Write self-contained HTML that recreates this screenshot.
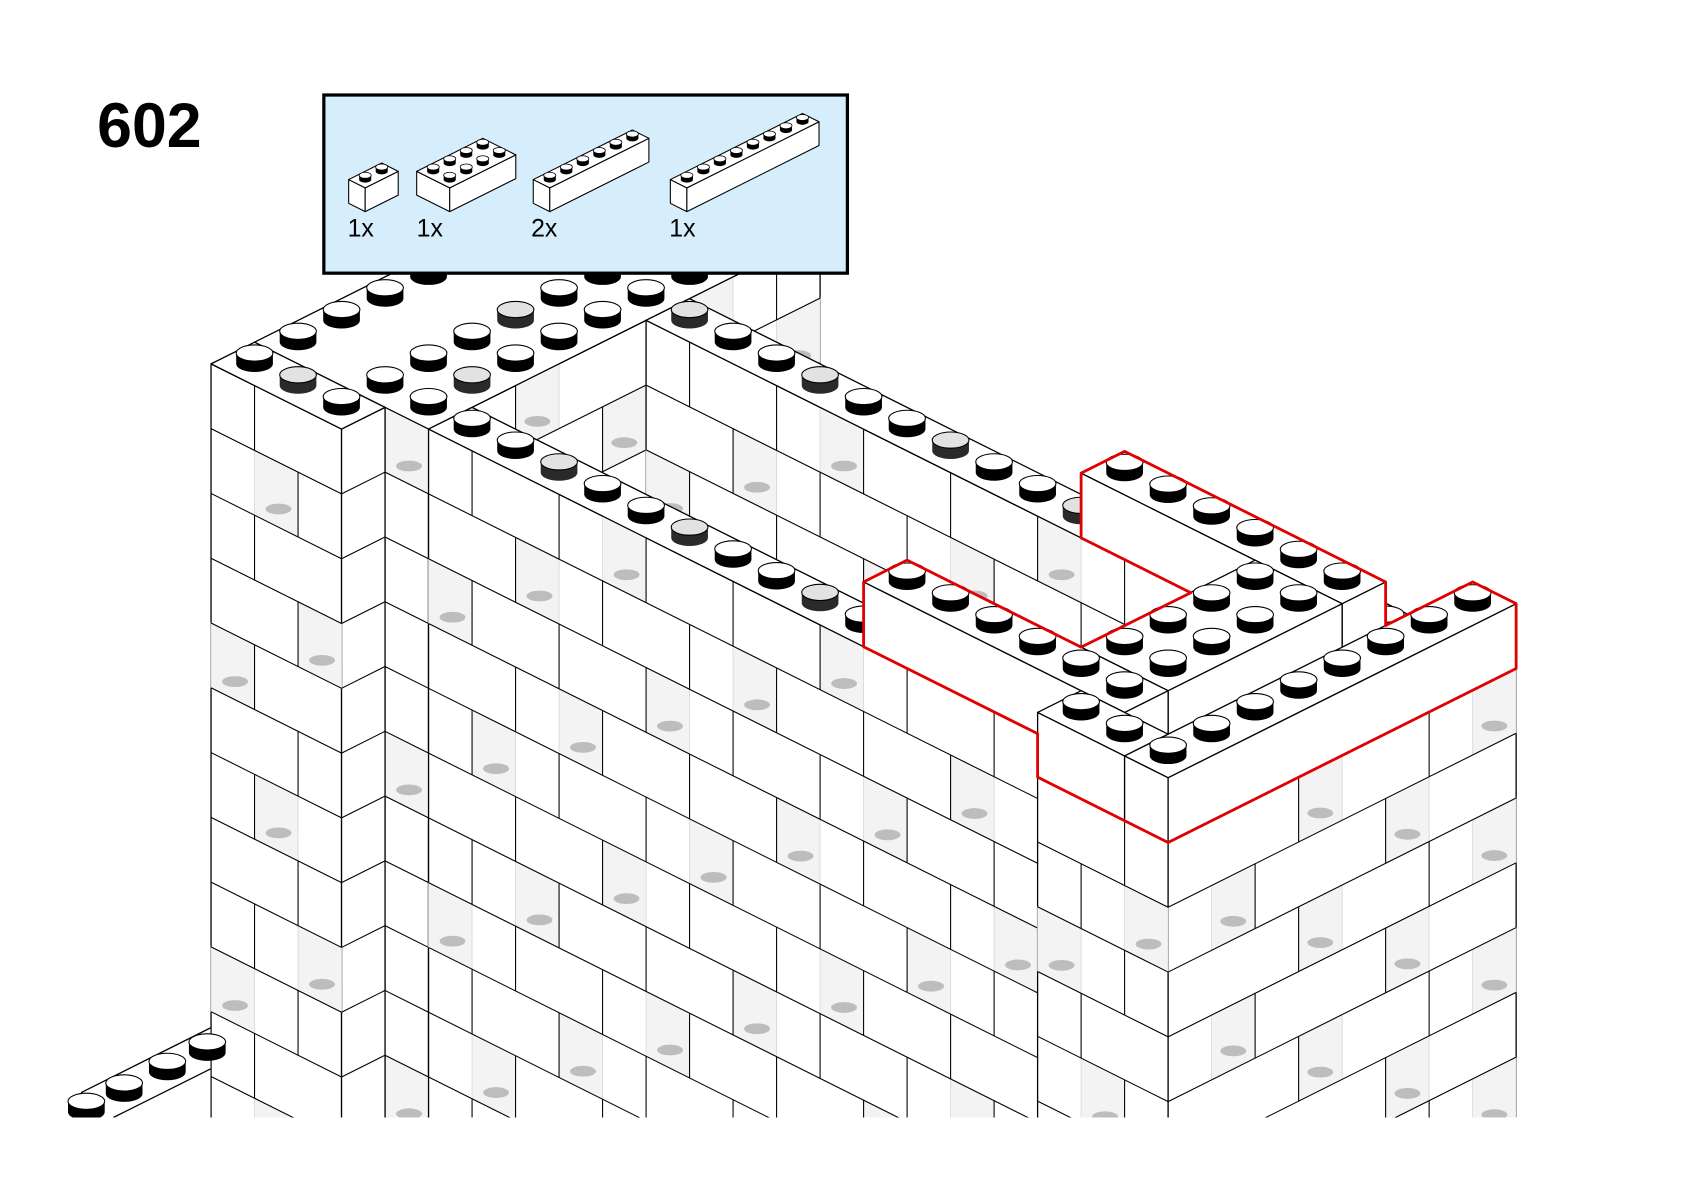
<!DOCTYPE html>
<html><head><meta charset="utf-8">
<style>
html,body{margin:0;padding:0;background:#fff;width:1684px;height:1192px;overflow:hidden;}
svg{display:block;}
</style></head>
<body>
<svg id="s" xmlns="http://www.w3.org/2000/svg" width="1684" height="1192" viewBox="0 0 1560 1104" preserveAspectRatio="none">
<rect width="1560" height="1104" fill="#fff"/>
<defs><clipPath id="cb"><rect x="0" y="0" width="1560" height="1035"/></clipPath></defs>
<g id="bld" clip-path="url(#cb)"></g>
<g id="red"></g>
<rect x="300" y="88" width="485" height="165" fill="#d6edfb" stroke="#000" stroke-width="3"/>
<g id="parts"></g>
<text x="90" y="136" font-family="Liberation Sans, sans-serif" font-weight="bold" font-size="58" fill="#000">602</text>
<g font-family="Liberation Sans, sans-serif" font-size="23" fill="#000">
<text x="322" y="219">1x</text><text x="386" y="219">1x</text><text x="492" y="219">2x</text><text x="620" y="219">1x</text>
</g>
</svg>
<script>
(function(){
var U=40.3,HU=20.15;
function P(a,b,z){return [195.5+U*(a+b), 337+HU*(a-b)-60*z];}
function pts(a){return a.map(function(p){return p[0].toFixed(1)+','+p[1].toFixed(1);}).join(' ');}
var out=[];
function poly(ps,fill,stroke,sw){out.push('<polygon points="'+pts(ps)+'" fill="'+fill+'" stroke="'+stroke+'" stroke-width="'+sw+'" stroke-linejoin="round"/>');}
function ln(p,q,c,w){out.push('<line x1="'+p[0].toFixed(1)+'" y1="'+p[1].toFixed(1)+'" x2="'+q[0].toFixed(1)+'" y2="'+q[1].toFixed(1)+'" stroke="'+(c||'#000')+'" stroke-width="'+(w||1)+'"/>');}
function mod(n,m){return ((n%m)+m)%m;}
function stud(p,grey,rx,ry,h){
  rx=rx||17;ry=ry||7.5;h=h||10;
  var x=p[0],y=p[1];
  out.push('<path d="M'+(x-rx)+','+(y-h)+' L'+(x-rx)+','+y+' A'+rx+','+ry+' 0 0 0 '+(x+rx)+','+y+' L'+(x+rx)+','+(y-h)+' Z" fill="'+(grey?'#2a2a2a':'#000')+'"/>');
  out.push('<ellipse cx="'+x+'" cy="'+(y-h)+'" rx="'+rx+'" ry="'+ry+'" fill="'+(grey?'#e2e2e2':'#fff')+'" stroke="#000" stroke-width="'+(rx>10?1:0.7)+'"/>');
}
function win(ps,c){poly(ps,'#f3f3f3','#d8d8d8',0.8);
  out.push('<ellipse cx="'+c[0].toFixed(1)+'" cy="'+c[1].toFixed(1)+'" rx="12" ry="5" fill="#bdbdbd"/>');}
function box(a0,a1,b0,b1,z0,z1,rows){
  poly([P(a0,b0,z1),P(a1,b0,z1),P(a1,b0,z0),P(a0,b0,z0)],'#fff','#000',1.2);
  poly([P(a1,b0,z1),P(a1,b1,z1),P(a1,b1,z0),P(a1,b0,z0)],'#fff','#000',1.2);
  if(rows){
    for(var z=z0;z<z1;z++){
      for(var a=a0;a<a1;a++){ if(mod(a+3*z,5)==0 && a+1<=a1){
        win([P(a,b0,z+1),P(a+1,b0,z+1),P(a+1,b0,z),P(a,b0,z)],P(a+0.55,b0,z+0.28)); } }
      for(var b=b0;b<b1;b++){ if(mod(b+2*z,4)==1 && b+1<=b1){
        win([P(a1,b,z+1),P(a1,b+1,z+1),P(a1,b+1,z),P(a1,b,z)],P(a1,b+0.5,z+0.28)); } }
    }
    for(var z=z0+1;z<z1;z++){
      ln(P(a0,b0,z),P(a1,b0,z),'#000',1);
      ln(P(a1,b0,z),P(a1,b1,z),'#000',1);
    }
    for(var z=z0;z<z1;z++){
      var off=mod(z,2);
      for(var a=Math.ceil(a0);a<a1;a++){ if(a>a0 && mod(a+off,2)==0) ln(P(a,b0,z),P(a,b0,z+1),'#000',1); }
      for(var b=Math.ceil(b0);b<b1;b++){ if(b>b0 && mod(b+off*2+1,3)==0) ln(P(a1,b,z),P(a1,b,z+1),'#000',1); }
    }
  }
  poly([P(a0,b0,z1),P(a1,b0,z1),P(a1,b1,z1),P(a0,b1,z1)],'#fff','#000',1.2);
}
var Z0=-12;
box(0,4,1,10,Z0,0,true);
[0.5,2.5,3.5].forEach(function(a){for(var b=1.5;b<9;b++){stud(P(a,b,0),(a==2.5&&b==4.5)||(a==3.5&&b==2.5));}});
box(4,18,6,7,Z0,0,true);
for(var a=4.5;a<18;a++){stud(P(a,6.5,0),mod(Math.floor(a),3)==1);}
box(18,19,2,8,Z0,0,true);
box(4,19,1,2,Z0,0,true);
for(var a=4.5;a<19;a++){stud(P(a,1.5,0),mod(Math.floor(a),3)==0);}
box(0,3,0,1,Z0,0,true);
[0.5,1.5,2.5].forEach(function(a){stud(P(a,0.5,0),a==1.5);});
box(19,22,0,8,Z0,0,true);
for(var b=1.5;b<8;b++){stud(P(20.5,b,0),false);}
stud(P(19.5,7.5,0),false);
poly([[75,1012],[195,952],[195,1035],[75,1035]],'#fff','none',0);
out.push('<polyline points="75,1012 195,952" fill="none" stroke="#000" stroke-width="1.2"/>');
out.push('<polyline points="105,1035 195,990" fill="none" stroke="#000" stroke-width="1.2"/>');
stud([80,1030],false);stud([115,1013],false);stud([155,993],false);stud([192,975],false);
document.getElementById('bld').innerHTML=out.join('');
out=[];
box(14,20,6,7,0,1,false);
for(var a=14.5;a<20;a++)stud(P(a,6.5,1));
box(18,20,2,6,0,1,false);
[18.5,19.5].forEach(function(a){for(var b=2.5;b<6;b++)stud(P(a,b,1));});
box(14,20,1,2,0,1,false);
for(var a=14.5;a<20;a++)stud(P(a,1.5,1));
box(19,21,0,1,0,1,false);
stud(P(19.5,0.5,1));stud(P(20.5,0.5,1));
box(21,22,0,8,0,1,false);
for(var b=0.5;b<8;b++)stud(P(21.5,b,1));
var R=[P(22,0,0),P(22,8,0),P(22,8,1),P(21,8,1),P(21,6,1),P(20,7,1),P(14,7,1),P(14,6,1),P(14,6,0),P(16.52,6,0),P(18,2,1),P(14,2,1),P(14,1,1),P(14,1,0),P(18,1,0),P(19,0,0)];
out.push('<polygon points="'+pts(R)+'" fill="none" stroke="#e00000" stroke-width="2.6" stroke-linejoin="round"/>');
document.getElementById('red').innerHTML=out.join('');
out=[];
function mbox(ox,la,lb){
  var s=15.3,hz=22,oy=196-7.65*la;
  function Q(a,b,z){return [ox+s*(a+b), oy+s/2*(a-b)-hz*z];}
  poly([Q(0,0,1),Q(la,0,1),Q(la,0,0),Q(0,0,0)],'#fff','#000',1);
  poly([Q(la,0,1),Q(la,lb,1),Q(la,lb,0),Q(la,0,0)],'#fff','#000',1);
  poly([Q(0,0,1),Q(la,0,1),Q(la,lb,1),Q(0,lb,1)],'#fff','#000',1);
  for(var a=0.5;a<la;a++)for(var b=lb-0.5;b>0;b--)stud(Q(a,b,1),false,5.6,2.8,4);
}
mbox(323,1,2);mbox(386,2,4);mbox(494,1,6);mbox(621,1,8);
document.getElementById('parts').innerHTML=out.join('');
})();
</script>
</body></html>
